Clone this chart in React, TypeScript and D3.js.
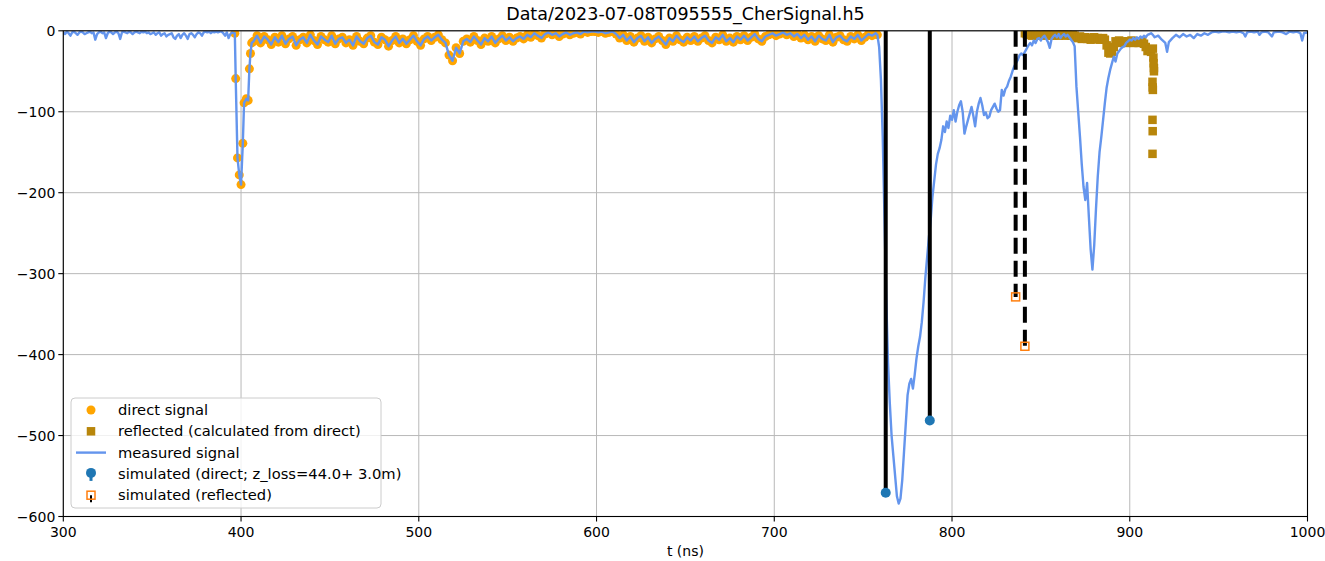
import React, { useRef, useEffect } from 'react';
import * as d3 from 'd3';

const title = 'Data/2023-07-08T095555_CherSignal.h5';
const xTicks = [300, 400, 500, 600, 700, 800, 900, 1000];
const yTicks = [0, -100, -200, -300, -400, -500, -600];

// measured signal, 300..396 ns at 1 ns
const noiseStart = 300;
const noiseValues = [
  -2, -4, -1, -3, -6, -2, -1, -3, -5, -2,
  -1, -2, -4, -3, -2, -1, -3, -2, -11, -4,
  -2, -1, -3, -2, -9, -3, -1, -2, -4, -2,
  -1, -3, -10, -2, -1, -2, -3, -1, -2, -4,
  -2, -1, -2, -3, -1, -2, -1, -3, -2, -4,
  -3, -2, -5, -3, -2, -6, -4, -3, -7, -5,
  -4, -3, -8, -10, -6, -4, -9, -5, -3, -6,
  -10, -4, -3, -5, -8, -4, -2, -3, -6, -2,
  -1, -2, -1, -3, -1, -2, -1, -2, -1, -1,
  -3, -6, -2, -9, -4, -2, -3,
];

// first pulse around 400 ns
const pulse400 = [
  [396.5, -3], [397, -59], [398, -157], [399, -178], [400, -190], [401, -139],
  [401.7, -89], [403, -84], [404, -86], [404.7, -47], [405.3, -28], [406, -15],
];

// 407..757 ns at 2 ns
const midStart = 407;
const midValues = [
  -13, -6, -15, -7, -11, -17, -8, -14, -6, -16, -10, -7, -18, -11, -8, -15, -5, -12, -17, -7, -11, -14, -6, -16, -10,
  -8, -15, -11, -18, -7, -13, -16, -9, -6, -14, -17, -8, -11, -19, -12, -7, -15, -10, -16, -11, -6, -13, -18, -10, -7,
  -12, -8, -5, -11, -15, -30, -37, -21, -28, -13, -10, -14, -7, -12, -17, -9, -13, -7, -15, -10, -6, -12, -8, -13, -9,
  -7, -10, -5, -8, -3, -6, -9, -4, -2, -5, -3, -7, -4, -2, -5, -3, -2, -4, -1, -2, -1, -1, -2, -1, -3,
  -2, -1, -4, -9, -5, -12, -7, -14, -9, -6, -13, -8, -15, -10, -7, -12, -17, -9, -13, -6, -11, -14, -8, -12, -7,
  -13, -9, -6, -12, -15, -8, -11, -5, -13, -9, -14, -7, -11, -6, -12, -8, -4, -10, -13, -7, -5, -3, -6, -4, -2,
  -5, -3, -7, -4, -9, -5, -11, -7, -13, -6, -10, -12, -5, -14, -8, -6, -11, -13, -7, -10, -5, -12, -8, -4, -6, -3,
];

// main pulse and the second dip, 758..913 ns
const mainPulse = [
  [758, -5], [759, -20], [760, -60], [761, -130], [762, -230], [763, -330], [764, -410], [765, -460],
  [766, -500], [767, -525], [768, -550], [769, -575], [770, -584], [771, -578], [772, -555], [773, -520],
  [774, -485], [775, -450], [776, -436], [777, -430], [778, -442], [779, -425], [780, -405], [781, -390],
  [782, -378], [783, -360], [784, -335], [785, -305], [786, -280], [787, -255], [788, -234], [789, -205],
  [790, -185], [791, -165], [792, -152], [793, -145], [794, -135], [795, -118], [796, -125], [797, -112],
  [798, -120], [799, -105], [800, -110], [801, -98], [802, -112], [803, -100], [804, -92], [805, -87],
  [806, -100], [807, -127], [808, -118], [809, -110], [810, -102], [811, -94], [812, -105], [813, -118],
  [814, -100], [815, -90], [816, -83], [817, -92], [818, -104], [819, -101], [820, -108], [821, -106],
  [822, -98], [823, -94], [824, -90], [825, -96], [826, -100], [827, -98], [828, -73], [829, -80],
  [830, -72], [831, -69], [832, -62], [833, -57], [834, -50], [835, -44], [836, -40], [837, -36],
  [838, -30], [839, -28], [840, -30], [841, -26], [842, -22], [843, -18], [844, -15], [845, -18],
  [846, -12], [847, -15], [848, -10], [849, -9], [850, -12], [851, -8], [852, -6], [853, -10],
  [854, -14], [855, -21], [856, -10], [857, -7], [858, -5], [859, -8], [860, -4], [861, -9],
  [862, -6], [863, -4], [864, -7], [865, -5], [866, -8], [867, -11], [868, -14], [869, -19],
  [870, -69], [871, -100], [872, -131], [873, -165], [874, -193], [875, -209], [876, -188], [877, -230],
  [878, -270], [879, -295], [880, -265], [881, -220], [882, -180], [883, -150], [884, -131], [885, -110],
  [886, -89], [887, -70], [888, -58], [889, -48], [890, -40], [891, -32], [892, -38], [893, -28],
  [894, -25], [895, -22], [896, -20], [897, -19], [898, -15], [899, -13], [900, -11], [901, -12],
  [902, -9], [903, -11], [904, -8], [905, -10], [906, -7], [907, -9], [908, -6], [909, -8],
  [910, -5], [911, -4], [912, -3], [913, -5],
];

const tail = [
  [914, -8], [916, -6], [918, -11], [920, -15], [921, -26], [922, -14], [924, -9], [926, -5],
  [928, -8], [930, -4], [932, -7], [934, -5], [936, -9], [938, -4], [940, -6], [942, -3],
  [944, -5], [946, -2], [948, -1], [950, -2], [952, -1], [954, -1], [956, -2], [958, -1],
  [960, -2], [962, -1], [964, -3], [965, -7], [966, -2], [968, -1], [970, -2], [972, -1],
  [973, -5], [974, -2], [976, -1], [978, -2], [980, -7], [981, -2], [984, -1], [986, -2],
  [988, -4], [990, -1], [992, -2], [994, -1], [996, -3], [997, -12], [998, -3], [1000, -2],
];

// direct signal = measured samples inside this window
const directWindow = [396.5, 758];

// reflected (calculated from direct), 841..913 ns at 1 ns
const reflStart = 841;
const reflValues = [
  -3, -4, -5, -4, -6, -5, -4, -6, -5, -4, -6, -5, -3, -4, -6, -5, -6, -4, -5, -6, -4, -5, -3, -6, -4, -5, -6, -5, -6,
  -8, -9, -7, -10, -9, -8, -10, -9, -11, -9, -8, -10, -9, -11, -10, -9, -11,
  -18, -27, -28, -26, -20,
  -13, -14, -12, -15, -13, -14, -15, -13, -14, -12, -15, -14, -13, -15, -14, -13, -16,
  -20, -25, -24, -26, -22,
];
const reflExtra = [
  [913.3, -33], [913.4, -40], [913.6, -46], [913.6, -50], [912.8, -63], [912.9, -70],
  [913.0, -73], [912.8, -110], [912.9, -124], [912.8, -152],
];

const simDirectT = [762.7, 787.5];
const simDirectV = [-570.7, -481.3];
const simReflT = [835.8, 841.0];
const simReflV = [-328.7, -389.7];

const legendLabels = [
  'direct signal',
  'reflected (calculated from direct)',
  'measured signal',
  'simulated (direct; z_loss=44.0+ 3.0m)',
  'simulated (reflected)',
];

const FONT = 'DejaVu Sans, sans-serif';

export default function App() {
  const ref = useRef<SVGSVGElement>(null);

  useEffect(() => {
    const svg = d3.select(ref.current);
    svg.selectAll('*').remove();

    const left = 63.3, right = 1307.5, top = 30.8, bottom = 516.5;

    const x = d3.scaleLinear().domain([300, 1000]).range([left, right]);
    const y = d3.scaleLinear().domain([-600, 0]).range([bottom, top]);

    const measured = [
      ...noiseValues.map((v, i) => [noiseStart + i, v]),
      ...pulse400,
      ...midValues.map((v, i) => [midStart + 2 * i, v]),
      ...mainPulse,
      ...tail,
    ];
    const direct = measured.filter(d => d[0] >= directWindow[0] && d[0] <= directWindow[1]);
    const reflected = [...reflValues.map((v, i) => [reflStart + i, v]), ...reflExtra];

    svg.append('defs').append('clipPath').attr('id', 'plotclip')
      .append('rect').attr('x', left).attr('y', top)
      .attr('width', right - left).attr('height', bottom - top);

    svg.append('rect').attr('width', 1325).attr('height', 561).attr('fill', '#fff');

    // grid
    const grid = svg.append('g').attr('stroke', '#b8b8b8').attr('stroke-width', 1);
    xTicks.forEach(t => grid.append('line')
      .attr('x1', x(t)).attr('x2', x(t)).attr('y1', top).attr('y2', bottom));
    yTicks.forEach(t => grid.append('line')
      .attr('x1', left).attr('x2', right).attr('y1', y(t)).attr('y2', y(t)));

    const plot = svg.append('g').attr('clip-path', 'url(#plotclip)');

    plot.selectAll('.direct').data(direct).enter().append('circle')
      .attr('cx', d => x(d[0])).attr('cy', d => y(d[1])).attr('r', 4.5)
      .attr('fill', '#ffa500');

    plot.selectAll('.refl').data(reflected).enter().append('rect')
      .attr('x', d => x(d[0]) - 4.25).attr('y', d => y(d[1]) - 4.25)
      .attr('width', 8.5).attr('height', 8.5)
      .attr('fill', '#b8860b');

    const line = d3.line<number[]>().x(d => x(d[0])).y(d => y(d[1]));
    plot.append('path').datum(measured)
      .attr('d', line).attr('fill', 'none')
      .attr('stroke', '#6495ed').attr('stroke-width', 2.4).attr('stroke-linejoin', 'round');

    // simulated direct stems
    simDirectT.forEach((t, i) => {
      plot.append('line').attr('x1', x(t)).attr('x2', x(t)).attr('y1', y(0)).attr('y2', y(simDirectV[i]))
        .attr('stroke', '#000').attr('stroke-width', 4);
    });
    simDirectT.forEach((t, i) => {
      plot.append('circle').attr('cx', x(t)).attr('cy', y(simDirectV[i])).attr('r', 5)
        .attr('fill', '#1f77b4');
    });

    // simulated reflected stems
    simReflT.forEach((t, i) => {
      plot.append('line').attr('x1', x(t)).attr('x2', x(t)).attr('y1', y(0)).attr('y2', y(simReflV[i]))
        .attr('stroke', '#000').attr('stroke-width', 4).attr('stroke-dasharray', '16,7');
    });
    simReflT.forEach((t, i) => {
      plot.append('rect').attr('x', x(t) - 4).attr('y', y(simReflV[i]) - 4)
        .attr('width', 8).attr('height', 8)
        .attr('fill', 'none').attr('stroke', '#ff7f0e').attr('stroke-width', 1.5);
    });

    // frame
    svg.append('rect').attr('x', left).attr('y', top)
      .attr('width', right - left).attr('height', bottom - top)
      .attr('fill', 'none').attr('stroke', '#000').attr('stroke-width', 1.1);

    // ticks
    const ax = svg.append('g').attr('font-family', FONT).attr('font-size', 14).attr('fill', '#000');
    xTicks.forEach(t => {
      ax.append('line').attr('x1', x(t)).attr('x2', x(t)).attr('y1', bottom).attr('y2', bottom + 5)
        .attr('stroke', '#000').attr('stroke-width', 1.1);
      ax.append('text').attr('x', x(t)).attr('y', bottom + 20).attr('text-anchor', 'middle').text(String(t));
    });
    yTicks.forEach(t => {
      ax.append('line').attr('x1', left - 5).attr('x2', left).attr('y1', y(t)).attr('y2', y(t))
        .attr('stroke', '#000').attr('stroke-width', 1.1);
      ax.append('text').attr('x', left - 8).attr('y', y(t) + 5).attr('text-anchor', 'end')
        .text(t < 0 ? '\u2212' + Math.abs(t) : String(t));
    });
    ax.append('text').attr('x', (left + right) / 2).attr('y', 556).attr('text-anchor', 'middle').text('t (ns)');

    svg.append('text').attr('x', (left + right) / 2).attr('y', 20).attr('text-anchor', 'middle')
      .attr('font-family', FONT).attr('font-size', 17.5).text(title);

    // legend
    const lg = svg.append('g');
    lg.append('rect').attr('x', 71).attr('y', 398).attr('width', 310).attr('height', 110)
      .attr('rx', 4).attr('fill', '#fff').attr('fill-opacity', 0.8)
      .attr('stroke', '#cccccc').attr('stroke-width', 1);
    const rowY = (i: number) => 410 + i * 21.3;
    const hx = 91;
    lg.append('circle').attr('cx', hx).attr('cy', rowY(0)).attr('r', 4.5).attr('fill', '#ffa500');
    lg.append('rect').attr('x', hx - 4.25).attr('y', rowY(1) - 4.25).attr('width', 8.5).attr('height', 8.5).attr('fill', '#b8860b');
    lg.append('line').attr('x1', 76).attr('x2', 106).attr('y1', rowY(2)).attr('y2', rowY(2))
      .attr('stroke', '#6495ed').attr('stroke-width', 2.4);
    lg.append('line').attr('x1', hx).attr('x2', hx).attr('y1', rowY(3)).attr('y2', rowY(3) + 7)
      .attr('stroke', '#1f77b4').attr('stroke-width', 3);
    lg.append('circle').attr('cx', hx).attr('cy', rowY(3) - 1).attr('r', 5).attr('fill', '#1f77b4');
    lg.append('line').attr('x1', hx).attr('x2', hx).attr('y1', rowY(4)).attr('y2', rowY(4) + 7)
      .attr('stroke', '#000').attr('stroke-width', 2);
    lg.append('rect').attr('x', hx - 4).attr('y', rowY(4) - 4).attr('width', 8).attr('height', 8)
      .attr('fill', 'none').attr('stroke', '#ff7f0e').attr('stroke-width', 1.5);
    legendLabels.forEach((s, i) => {
      lg.append('text').attr('x', 118).attr('y', rowY(i) + 5)
        .attr('font-family', FONT).attr('font-size', 14.7).attr('fill', '#000').text(s);
    });
  }, []);

  return (
    <svg ref={ref} width={1325} height={561} style={{ position: 'absolute', left: 0, top: 0 }} />
  );
}
